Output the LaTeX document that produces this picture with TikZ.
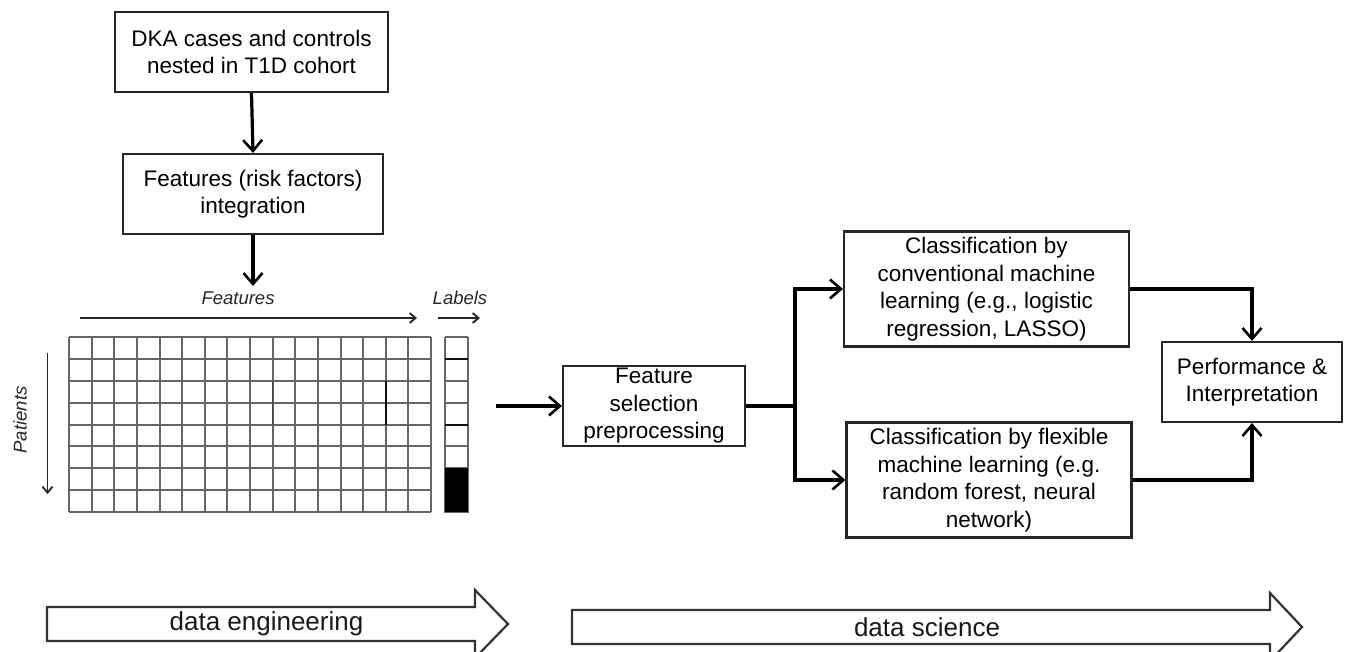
\documentclass[tikz,border=0pt]{standalone}
\usepackage{fontspec}
\setmainfont{Liberation Sans}
\usetikzlibrary{arrows.meta}
\tikzset{
  box/.style={draw=black!85, line width=2.1pt, fill=white, align=center, inner sep=0pt,
              font=\fontsize{22.5}{27.5}\selectfont},
  conn/.style={line width=3.2pt, -{Straight Barb[length=11pt,width=19pt,line width=2.6pt]}},
  plainconn/.style={line width=3.2pt},
  thinarr/.style={line width=1.9pt, draw=black!85, -{Straight Barb[length=6pt,width=10pt,line width=1.8pt]}},
  axislabel/.style={font=\fontsize{18.5}{20}\selectfont\itshape, text=black!85},
  gridline/.style={draw=black!60, line width=2pt},
  darkline/.style={draw=black!95, line width=2pt},
  bigarrow/.style={draw=black!80, line width=2.2pt, fill=white},
  biglabel/.style={font=\fontsize{26}{30}\selectfont, text=black!90}
}
\begin{document}
\begin{tikzpicture}[x=1pt,y=-1pt]
\useasboundingbox (0,0) rectangle (1346,652);

% --- top flow ---
\node[box, minimum width=273pt, minimum height=80pt] (dka) at (251.5,52) {DKA cases and controls\\nested in T1D cohort};
\node[box, minimum width=260pt, minimum height=80pt] (feat) at (253,194) {Features (risk factors)\\integration};
\coordinate (gridtop) at (253,286);
\draw[conn] (dka.south) -- (feat.north);
\draw[conn] (feat.south) -- (gridtop);

% --- axis labels and arrows ---
\node[axislabel] (featlab) at (238,298) {Features};
\node[axislabel] (lablab) at (460,298) {Labels};
\coordinate (fa1) at (80,318);
\coordinate (fa2) at (417,318);
\coordinate (la1) at (438,318);
\coordinate (la2) at (480,318);
\draw[thinarr] (fa1) -- (fa2);
\draw[thinarr] (la1) -- (la2);
\coordinate (pa1) at (47.5,353);
\coordinate (pa2) at (47.5,494);
\draw[thinarr] (pa1) -- (pa2);
\node[axislabel, rotate=90] (patlab) at (20,420) {Patients};

% --- feature matrix ---
\foreach \i in {0,...,16} {
  \draw[gridline] ({69+\i*22.625},337) -- ({69+\i*22.625},512);
}
\foreach \j in {0,...,8} {
  \draw[gridline] (69,{337+\j*21.875}) -- (431,{337+\j*21.875});
}
\draw[darkline] (385.75,380.75) -- (385.75,424.5);
\draw[draw=black!75, line width=1.2pt] (272.6,380.75) -- (272.6,424.5);

% --- labels column ---
\foreach \j in {0,...,6} {
  \draw[gridline] (445,{337+\j*21.875}) -- (468,{337+\j*21.875});
}
\draw[gridline] (445,337) -- (445,512) -- (468,512) -- (468,337);
\fill[black] (445,468.25) rectangle (468,512);
\draw[darkline] (445,358.875) -- (468,358.875);
\draw[darkline] (445,424.5) -- (468,424.5);

% --- right flow ---
\node[box, minimum width=182pt, minimum height=80pt] (fsel) at (654,406) {Feature\\selection\\preprocessing};
\node[box, minimum width=285pt, minimum height=115pt] (conv) at (986.5,289) {Classification by\\conventional machine\\learning (e.g., logistic\\regression, LASSO)};
\node[box, minimum width=285pt, minimum height=115pt] (flex) at (989,480) {Classification by flexible\\machine learning (e.g.\\random forest, neural\\network)};
\node[box, minimum width=180pt, minimum height=80pt] (perf) at (1252,382) {Performance \&\\Interpretation};

\coordinate (mstart) at (496,406);
\draw[conn] (mstart) -- (fsel.west);
\coordinate (branch) at (795,406);
\draw[plainconn] (fsel.east) -- (branch);
\draw[conn] (branch) |- (conv.west);
\draw[conn] (branch) |- (flex.west);
\draw[conn] (conv.east) -| (perf.north);
\draw[conn] (flex.east) -| (perf.south);

% --- bottom block arrows ---
\draw[bigarrow] (47,607) -- (475,607) -- (475,590) -- (508,624) -- (475,658) -- (475,641) -- (47,641) -- cycle;
\node[biglabel] (de) at (266.5,624) {data engineering};
\draw[bigarrow] (572,610) -- (1270,610) -- (1270,593) -- (1302,627) -- (1270,661) -- (1270,644) -- (572,644) -- cycle;
\node[biglabel] (ds) at (927,627) {data science};
\end{tikzpicture}
\end{document}
